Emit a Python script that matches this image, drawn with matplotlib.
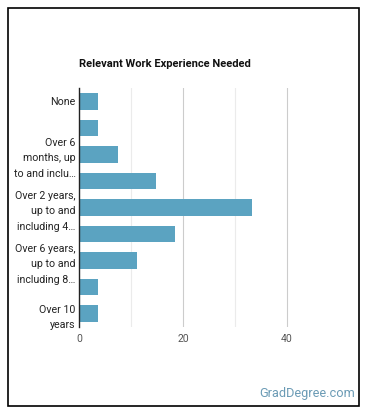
import matplotlib
matplotlib.use("Agg")
import matplotlib.pyplot as plt
from matplotlib.patches import Rectangle

plt.rcParams['font.family'] = ['Roboto', 'DejaVu Sans']

categories = ["None", "", "Over 6\nmonths, up\nto and inclu\u2026", "",
              "Over 2 years,\nup to and\nincluding 4\u2026", "",
              "Over 6 years,\nup to and\nincluding 8\u2026", "", "Over 10\nyears"]
values = [3.7, 3.7, 7.5, 14.8, 33.3, 18.5, 11.1, 3.7, 3.7]
xticks = [0, 20, 40]
minor_xticks = [10, 30]

W, H = 370, 417
fig = plt.figure(figsize=(W / 100, H / 100), dpi=100)
fig.patch.set_facecolor("white")

ax = fig.add_axes([79 / W, 1 - 327 / H, (339 - 79) / W, (327 - 88) / H])
y = list(range(len(values)))
ax.barh(y, values, height=0.62, color="#5ba3c1", zorder=3)
ax.set_ylim(len(values) - 0.5, -0.5)
ax.set_xlim(0, 50)
ax.set_yticks(y)
ax.set_yticklabels(categories, fontsize=7.7, color="#222222", linespacing=1.72)
ax.set_xticks(xticks)
ax.set_xticklabels([str(t) for t in xticks], fontsize=7.5, color="#555555")
ax.set_xticks(minor_xticks, minor=True)
ax.tick_params(axis="both", length=0, pad=2.5)
ax.tick_params(axis="x", which="both", length=0, pad=5)
ax.grid(axis="x", which="major", color="#cccccc", linewidth=0.8, zorder=0)
ax.grid(axis="x", which="minor", color="#ebebeb", linewidth=0.8, zorder=0)
for s in ["top", "right", "bottom"]:
    ax.spines[s].set_visible(False)
ax.spines["left"].set_color("#222222")
ax.spines["left"].set_linewidth(1)
ax.spines["left"].set_zorder(4)

fig.text(79 / W, 1 - 64 / H, "Relevant Work Experience Needed", fontsize=8,
         fontweight="bold", color="#111111", ha="left", va="center")
fig.text(355 / W, 1 - 394 / H, "GradDegree.com", fontsize=9.2,
         color="#6b9bb5", ha="right", va="center")

fig.patches.append(Rectangle((8 / W, 1 - 406 / H), (359 - 8) / W, (406 - 8) / H,
                             transform=fig.transFigure, fill=False,
                             edgecolor="black", linewidth=1.2))

fig.savefig("out.png", dpi=100)
